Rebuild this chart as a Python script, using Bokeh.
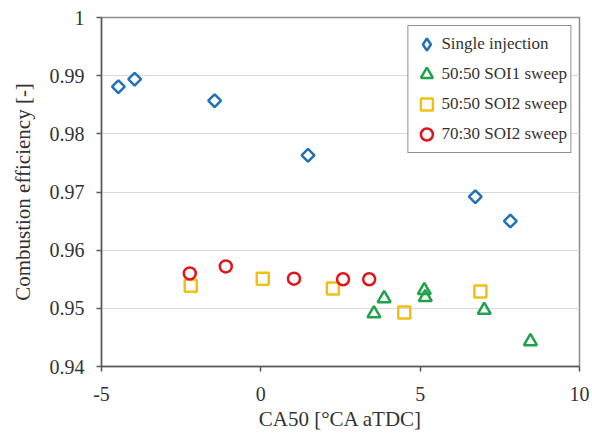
import numpy as np
from bokeh.plotting import figure
from bokeh.models import Legend, LegendItem, NumeralTickFormatter, FixedTicker, Range1d
from bokeh.embed import file_html
from bokeh.resources import INLINE

# Data
single_x = [-4.47, -3.96, -1.45, 1.48, 6.73, 7.83]
single_y = [0.9881, 0.9894, 0.9857, 0.9763, 0.9692, 0.9650]

soi1_x = [3.55, 3.87, 5.13, 5.16, 7.01, 8.46]
soi1_y = [0.9491, 0.9517, 0.9531, 0.9519, 0.9497, 0.9443]

soi2_x = [-2.20, 0.06, 2.26, 4.50, 6.89]
soi2_y = [0.9539, 0.9551, 0.9534, 0.9493, 0.9529]

r70_x = [-2.23, -1.10, 1.04, 2.58, 3.40]
r70_y = [0.9560, 0.9572, 0.9551, 0.9550, 0.9550]

labels = ["Single injection", "50:50 SOI1 sweep", "50:50 SOI2 sweep", "70:30 SOI2 sweep"]
x_ticks = [-5, 0, 5, 10]
x_tick_labels = {-5: "-5", 0: "0", 5: "5", 10: "10"}
y_ticks = [0.94, 0.95, 0.96, 0.97, 0.98, 0.99, 1.0]

FONT = "Liberation Serif"
TXT = "#333333"
BLUE, GREEN, YELLOW, RED = "#1f72b8", "#1fa24a", "#f2c014", "#e3141c"

p = figure(width=592, height=433, output_backend="svg", toolbar_location=None,
           x_range=Range1d(-5, 10), y_range=Range1d(0.94, 1.0))
p.min_border_left = 101
p.min_border_right = 13
p.min_border_top = 17
p.min_border_bottom = 67
p.background_fill_color = "white"
p.border_fill_color = "white"
p.outline_line_color = "#8c8c8c"
p.outline_line_width = 1.5

p.xgrid.visible = False
p.ygrid.grid_line_color = "#d9d9d9"
p.ygrid.grid_line_width = 1

for ax in (p.xaxis[0], p.yaxis[0]):
    ax.axis_line_color = "#595959"
    ax.axis_line_width = 1.5
    ax.major_tick_line_color = "#595959"
    ax.major_tick_line_width = 1.5
    ax.major_tick_in = 0
    ax.major_tick_out = 5
    ax.minor_tick_line_color = None
    ax.major_label_text_font = FONT
    ax.major_label_text_font_size = "20px"
    ax.major_label_text_color = TXT
    ax.axis_label_text_font = FONT
    ax.axis_label_text_font_size = "21px"
    ax.axis_label_text_font_style = "normal"
    ax.axis_label_text_color = TXT

p.xaxis.ticker = FixedTicker(ticks=x_ticks)
p.xaxis.major_label_overrides = x_tick_labels
p.yaxis.ticker = FixedTicker(ticks=y_ticks)
p.yaxis.formatter = NumeralTickFormatter(format="0.[00]")
p.xaxis.major_label_standoff = 15
p.yaxis.major_label_standoff = 12
p.xaxis.axis_label = "CA50 [°CA aTDC]"
p.yaxis.axis_label = "Combustion efficiency [-]"
p.xaxis.axis_label_standoff = 3
p.yaxis.axis_label_standoff = 12

LW = 2.5
r1 = p.scatter(single_x, single_y, marker="square", size=9, angle=np.pi / 4,
               fill_color=None, line_color=BLUE, line_width=LW)
r2 = p.scatter(soi1_x, soi1_y, marker="triangle", size=13,
               fill_color=None, line_color=GREEN, line_width=LW)
r3 = p.scatter(soi2_x, soi2_y, marker="square", size=12,
               fill_color=None, line_color=YELLOW, line_width=LW)
r4 = p.scatter(r70_x, r70_y, marker="circle", size=12,
               fill_color=None, line_color=RED, line_width=LW)
# hidden twin of the single-injection series, used only for a diamond legend key
r1_key = p.scatter(single_x, single_y, marker="diamond", size=12, visible=False,
                   fill_color=None, line_color=BLUE, line_width=LW)

legend = Legend(items=[LegendItem(label=l, renderers=[r]) for l, r in zip(labels, [r1_key, r2, r3, r4])],
                location="top_right")
legend.label_text_font = FONT
legend.label_text_font_size = "17px"
legend.label_text_color = TXT
legend.border_line_color = "#222222"
legend.border_line_width = 1.2
legend.glyph_width = 30
legend.glyph_height = 30
legend.label_standoff = -6
legend.spacing = 0
legend.padding = 3
legend.margin = 8
legend.label_height = 20
p.add_layout(legend)

open("out.html", "w").write(file_html(p, INLINE))
